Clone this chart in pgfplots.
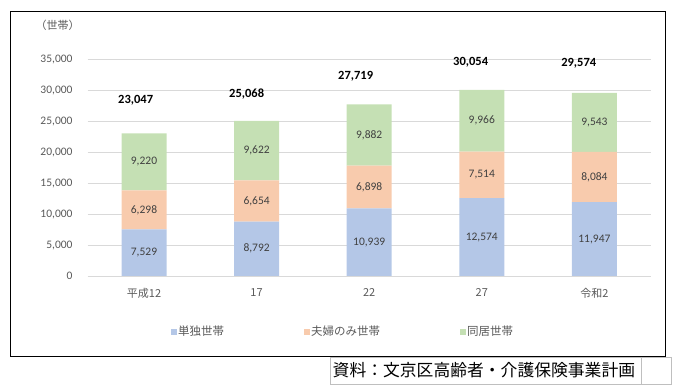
\documentclass[border=0pt]{standalone}
\usepackage{pgfplots}
\pgfplotsset{compat=1.18}
\usepackage{pgfplotstable}
\usepackage{fontspec}
\setmainfont{Carlito}
\newfontfamily\jp{Noto Sans CJK JP}
\definecolor{cBlue}{HTML}{B4C7E7}
\definecolor{cOrange}{HTML}{F8CBAD}
\definecolor{cGreen}{HTML}{C5E0B4}
\definecolor{cGrid}{HTML}{D9D9D9}
\definecolor{cTick}{HTML}{595959}
\definecolor{cLab}{HTML}{404040}
\pgfplotsset{/pgf/number format/assume math mode=true,
  sqlegend/.style={legend image code/.code={\fill[##1] (0bp,-3bp) rectangle (6bp,3bp);}}}

\pgfplotstableread{
x y
0 7529
1 8792
2 10939
3 12574
4 11947
}\tandoku
\pgfplotstableread{
x y
0 6298
1 6654
2 6898
3 7514
4 8084
}\fuufu
\pgfplotstableread{
x y
0 9220
1 9622
2 9882
3 9966
4 9543
}\doukyo
% segment labels, placed at the middle of each segment
\pgfplotstableread{
x y label
0 3764.5 7,529
1 4396 8,792
2 5469.5 10,939
3 6287 12,574
4 5973.5 11,947
0 10678 6,298
1 12119 6,654
2 14388 6,898
3 16331 7,514
4 15989 8,084
0 18437 9,220
1 20257 9,622
2 22778 9,882
3 25071 9,966
4 24802.5 9,543
}\seglabels
% totals
\pgfplotstableread{
x y label
-0.074 28424 23,047
0.912 29393 25,068
1.880 32300 27,719
2.901 34561 30,054
3.861 34350 29,574
}\totals

\begin{document}
\begin{tikzpicture}
\path[use as bounding box] (0,0) rectangle (676bp,389bp);
\draw[line width=1.2bp] (10.7bp,32.3bp) rectangle (665.7bp,377.7bp);
\begin{axis}[
  at={(87.7bp,113bp)}, anchor=south west,
  scale only axis, width=563bp, height=216.7bp,
  ybar stacked, bar width=45bp,
  xmin=-0.5, xmax=4.5, ymin=0, ymax=35000,
  xtick={0,1,2,3,4}, xticklabels={平成12,17,22,27,令和2},
  ytick={0,5000,...,35000},
  scaled y ticks=false,
  ymajorgrids, grid style={cGrid, line width=0.8bp},
  axis line style={draw=none},
  major tick length=0pt, tick style={draw=none},
  /pgf/number format/1000 sep={,},
  /pgf/number format/fixed,
  yticklabel style={font=\fontsize{11.5bp}{13bp}\selectfont, text=cTick, anchor=east, inner sep=0pt, xshift=-15bp},
  xticklabel style={font=\jp\fontsize{11bp}{13bp}\selectfont, text=cTick, anchor=center, inner sep=0pt, yshift=-17bp},
  legend style={at={(0.147,-0.258)}, anchor=west, draw=none, fill=none,
    legend columns=3, font=\jp\fontsize{11.5bp}{13bp}\selectfont, text=cTick,
    /tikz/every even column/.append style={column sep=78bp},
    inner sep=0pt, nodes={inner sep=1.5bp}, cells={anchor=west}},
]
\addplot[fill=cBlue, draw=none, sqlegend] table[x=x,y=y] {\tandoku};
\addplot[fill=cOrange, draw=none, sqlegend] table[x=x,y=y] {\fuufu};
\addplot[fill=cGreen, draw=none, sqlegend] table[x=x,y=y] {\doukyo};
\legend{単独世帯,夫婦のみ世帯,同居世帯}
\end{axis}
\begin{axis}[
  at={(87.7bp,113bp)}, anchor=south west,
  scale only axis, width=563bp, height=216.7bp,
  xmin=-0.5, xmax=4.5, ymin=0, ymax=35000,
  hide axis, clip=false,
]
\addplot[draw=none, mark=none, nodes near coords, point meta=explicit symbolic,
  every node near coord/.style={anchor=center, font=\fontsize{11.5bp}{13bp}\selectfont, text=cLab}]
  table[x=x,y=y,meta=label] {\seglabels};
\addplot[draw=none, mark=none, nodes near coords, point meta=explicit symbolic,
  every node near coord/.style={anchor=center, font=\bfseries\fontsize{12.5bp}{14bp}\selectfont, text=black}]
  table[x=x,y=y,meta=label] {\totals};
\end{axis}
\node[font=\jp\fontsize{11bp}{13bp}\selectfont, text=cTick] at (57.5bp,364bp) {（世帯）};
\draw[color=black!25, line width=0.8bp] (330.5bp,32bp) rectangle (671.3bp,5bp);
\draw[color=black!25, line width=0.8bp] (641.7bp,32bp) -- (641.7bp,5bp);
\node[font=\jp\fontsize{16.8bp}{18bp}\selectfont, anchor=west, inner sep=0pt] at (332.5bp,19bp) {資料：文京区高齢者・介護保険事業計画};
\end{tikzpicture}
\end{document}
